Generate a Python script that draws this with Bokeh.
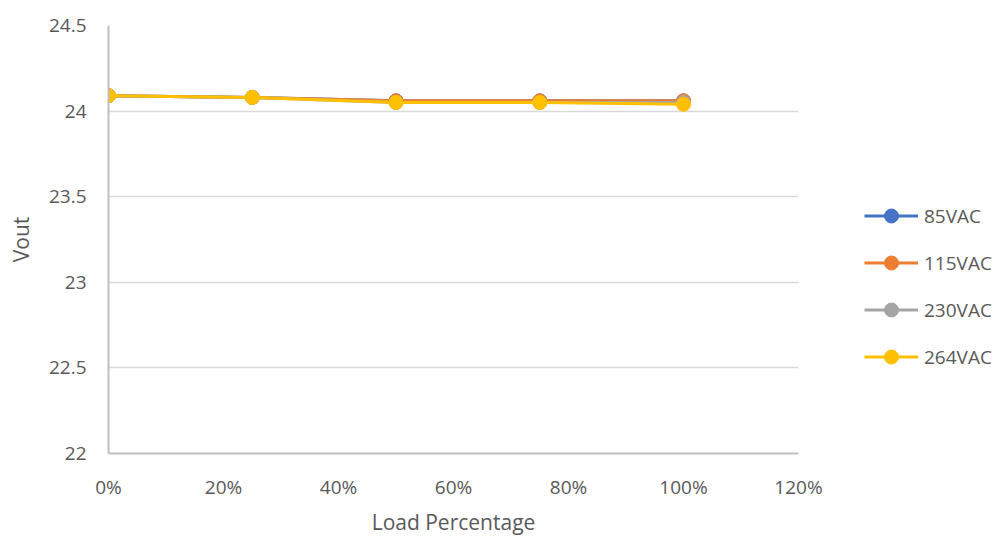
from bokeh.plotting import figure
from bokeh.models import (Range1d, FixedTicker, NumeralTickFormatter, Legend,
                          LegendItem)
from bokeh.embed import file_html
from bokeh.resources import INLINE

# Output voltage vs. load, one series per input line voltage
load = [0.0, 0.25, 0.50, 0.75, 1.00]
vac_85 = [24.09, 24.08, 24.06, 24.06, 24.06]
vac_115 = [24.09, 24.08, 24.06, 24.06, 24.06]
vac_230 = [24.09, 24.08, 24.05, 24.05, 24.05]
vac_264 = [24.09, 24.08, 24.05, 24.05, 24.04]

series_names = ["85VAC", "115VAC", "230VAC", "264VAC"]
series_values = [vac_85, vac_115, vac_230, vac_264]
series_colors = ["#4472C4", "#ED7D31", "#A5A5A5", "#FFC000"]

x_ticks = [0, 0.2, 0.4, 0.6, 0.8, 1.0, 1.2]
y_ticks = [22, 22.5, 23, 23.5, 24, 24.5]

FONT = "Open Sans"
TEXT = "#595959"

p = figure(frame_width=690, frame_height=428, output_backend="svg",
           toolbar_location=None,
           x_range=Range1d(0, 1.2), y_range=Range1d(22, 24.5),
           min_border_left=108, min_border_right=0,
           min_border_top=25, min_border_bottom=82)
p.outline_line_color = None
p.background_fill_color = "white"
p.border_fill_color = "white"

# grid
p.xgrid.grid_line_color = None
p.ygrid.grid_line_color = "#D9D9D9"
p.ygrid.grid_line_width = 1.5

# axes
p.xaxis.ticker = FixedTicker(ticks=x_ticks)
p.yaxis.ticker = FixedTicker(ticks=y_ticks)
p.xaxis.formatter = NumeralTickFormatter(format="0%")
p.yaxis.formatter = NumeralTickFormatter(format="0.[0]")
for ax in (p.xaxis[0], p.yaxis[0]):
    ax.axis_line_color = "#BFBFBF"
    ax.axis_line_width = 2
    ax.major_tick_line_color = None
    ax.minor_tick_line_color = None
    ax.major_tick_out = 0
    ax.major_tick_in = 0
    ax.minor_tick_out = 0
    ax.minor_tick_in = 0
    ax.major_label_text_font = FONT
    ax.major_label_text_font_size = "19px"
    ax.major_label_text_color = TEXT
    ax.axis_label_text_font = FONT
    ax.axis_label_text_font_size = "21px"
    ax.axis_label_text_font_style = "normal"
    ax.axis_label_text_color = TEXT
p.xaxis.axis_label = "Load Percentage"
p.yaxis.axis_label = "Vout"
p.xaxis.major_label_standoff = 20
p.yaxis.major_label_standoff = 22
p.xaxis.axis_label_standoff = 5
p.yaxis.axis_label_standoff = 11

items = []
for name, vals, col in zip(series_names, series_values, series_colors):
    ln = p.line(load, vals, line_color=col, line_width=3)
    sc = p.scatter(load, vals, size=14, fill_color=col, line_color=col)
    items.append(LegendItem(label=name, renderers=[ln, sc]))

legend = Legend(items=items, location=(66, 79), orientation="vertical",
                glyph_width=54, glyph_height=35, spacing=12, label_standoff=6,
                label_text_font=FONT, label_text_font_size="19px",
                label_text_color=TEXT, border_line_color=None,
                background_fill_alpha=0, padding=0, margin=0)
p.add_layout(legend, "right")

open("out.html", "w").write(file_html(p, INLINE))
